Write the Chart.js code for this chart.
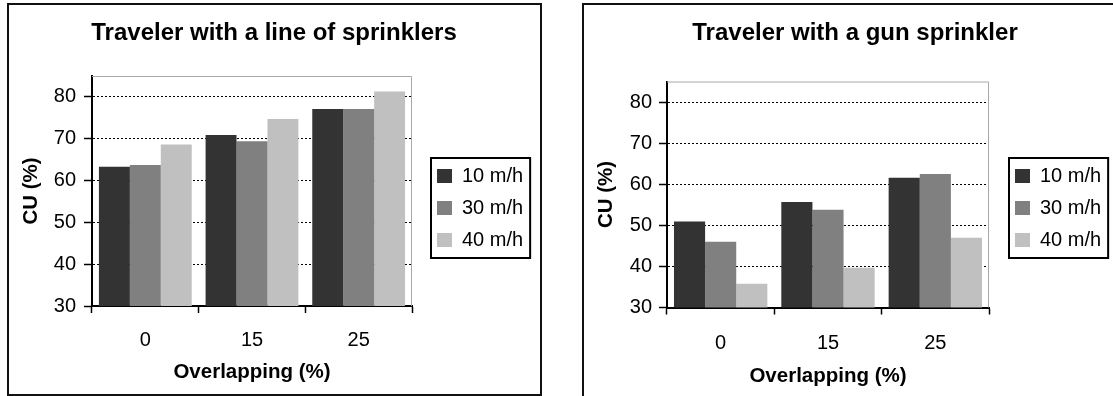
<!DOCTYPE html>
<html>
<head>
<meta charset="utf-8">
<script src="https://cdn.jsdelivr.net/npm/chart.js@4/dist/chart.umd.min.js"></script>
<style>
  html, body { margin: 0; padding: 0; background: #fff; }
  body { width: 1113px; height: 396px; overflow: hidden; position: relative; }
  .panel { position: absolute; box-sizing: border-box; border: 2px solid #111; }
  canvas { position: absolute; }
</style>
</head>
<body>
<div class="panel" style="left:7px; top:3px; width:535px; height:393px;"></div>
<div class="panel" style="left:582px; top:3px; width:600px; height:420px;"></div>
<canvas id="lineChart" width="530" height="388" style="left:9px; top:6px;"></canvas>
<canvas id="gunChart" width="542" height="388" style="left:584px; top:6px;"></canvas>
<script>
// data
let overlap = ['0', '15', '25']
let speeds = ['10 m/h', '30 m/h', '40 m/h']
let yTicks = [30, 40, 50, 60, 70, 80]

let lineCU10 = [63.3, 70.9, 77.1]
let lineCU30 = [63.7, 69.4, 77.1]
let lineCU40 = [68.6, 74.7, 81.3]

let gunCU10 = [50.9, 55.7, 61.6]
let gunCU30 = [46.0, 53.8, 62.5]
let gunCU40 = [35.8, 39.7, 47.0]

let barColors = ['#333333', '#808080', '#c0c0c0']

Chart.defaults.font.family = '"Liberation Sans", Arial, sans-serif'
Chart.defaults.color = '#000'

// puts the title across the whole panel, moves the legend next to the plot,
// draws the legend frame and the grey plot border
let frame = {
    id: 'frame',
    afterLayout(chart, args, opts) {
        let t = chart.titleBlock
        t.left = 0
        t.right = chart.width
        t.width = chart.width

        let lg = chart.legend
        let pad = lg.options.labels.padding
        let colH = lg.columnSizes[0].height
        lg.left = opts.legendX - pad
        lg.right = lg.left + lg.width
        lg.top = opts.legendY - pad
        lg.bottom = lg.top + colH + pad
    },
    beforeDatasetsDraw(chart) {
        let ctx = chart.ctx, a = chart.chartArea
        ctx.save()
        ctx.strokeStyle = '#a8a8a8'
        ctx.lineWidth = 1
        ctx.beginPath()
        ctx.moveTo(a.left, a.top + 0.5)
        ctx.lineTo(a.right - 0.5, a.top + 0.5)
        ctx.lineTo(a.right - 0.5, a.bottom)
        ctx.stroke()
        ctx.restore()
    },
    afterDraw(chart) {
        let ctx = chart.ctx
        let hb = chart.legend.legendHitBoxes
        let x0 = Math.min(...hb.map(b => b.left)) - 6
        let x1 = Math.max(...hb.map(b => b.left + b.width)) + 7
        let y0 = hb[0].top - 8
        let y1 = hb[hb.length - 1].top + hb[hb.length - 1].height + 8
        ctx.save()
        ctx.strokeStyle = '#000'
        ctx.lineWidth = 2
        ctx.strokeRect(x0, y0, x1 - x0, y1 - y0)
        ctx.restore()
    }
}

function makeChart(id, title, cu10, cu30, cu40, lay) {
    return new Chart(document.getElementById(id), {
        type: 'bar',
        data: {
            labels: overlap,
            datasets: [
                { label: speeds[0], data: cu10, backgroundColor: barColors[0] },
                { label: speeds[1], data: cu30, backgroundColor: barColors[1] },
                { label: speeds[2], data: cu40, backgroundColor: barColors[2] }
            ]
        },
        options: {
            responsive: false,
            animation: false,
            devicePixelRatio: 1,
            events: [],
            layout: { padding: { left: 0, top: 0, right: lay.right, bottom: 0 } },
            datasets: { bar: { categoryPercentage: 0.87, barPercentage: 1, borderWidth: 0 } },
            plugins: {
                title: {
                    display: true, text: title, color: '#000',
                    font: { size: 24, weight: 'bold' },
                    padding: { top: 13, bottom: lay.titleGap }
                },
                legend: {
                    position: 'chartArea',
                    labels: { color: '#000', font: { size: 20 }, boxWidth: 15, boxHeight: 14, padding: 12 }
                },
                tooltip: { enabled: false },
                frame: { legendX: lay.legendX, legendY: 160 }
            },
            scales: {
                x: {
                    grid: { drawOnChartArea: false, tickLength: 7, tickColor: '#000', tickWidth: 1.5 },
                    border: { color: '#000', width: 2 },
                    ticks: { color: '#000', font: { size: 20 }, padding: lay.xTickPad },
                    title: {
                        display: true, text: 'Overlapping (%)', color: '#000',
                        font: { size: 20.5, weight: 'bold' },
                        padding: { top: 0, bottom: lay.xTitlePad }
                    },
                    afterFit: s => { s.height = lay.xHeight }
                },
                y: {
                    min: 30,
                    max: 85,
                    afterBuildTicks: s => { s.ticks = yTicks.map(v => ({ value: v })) },
                    grid: { color: '#000', lineWidth: 1, tickColor: '#000', tickLength: 8, tickWidth: 1.5, tickBorderDash: [] },
                    border: { color: '#000', width: 2, dash: [2, 2] },
                    ticks: { color: '#000', font: { size: 20 }, padding: lay.yTickPad },
                    title: {
                        display: true, text: 'CU (%)', color: '#000',
                        font: { size: 20.5, weight: 'bold' },
                        padding: { top: 10, bottom: 0 }
                    },
                    afterFit: s => { s.width = 83 }
                }
            }
        },
        plugins: [frame]
    })
}

makeChart('lineChart', 'Traveler with a line of sprinklers', lineCU10, lineCU30, lineCU40,
    { right: 127, titleGap: 28.2, xHeight: 88, xTickPad: 15, xTitlePad: 9, yTickPad: 8, legendX: 428 })

makeChart('gunChart', 'Traveler with a gun sprinkler', gunCU10, gunCU30, gunCU40,
    { right: 137, titleGap: 33.7, xHeight: 86.5, xTickPad: 16.5, xTitlePad: 5, yTickPad: 7, legendX: 431 })
</script>
</body>
</html>
